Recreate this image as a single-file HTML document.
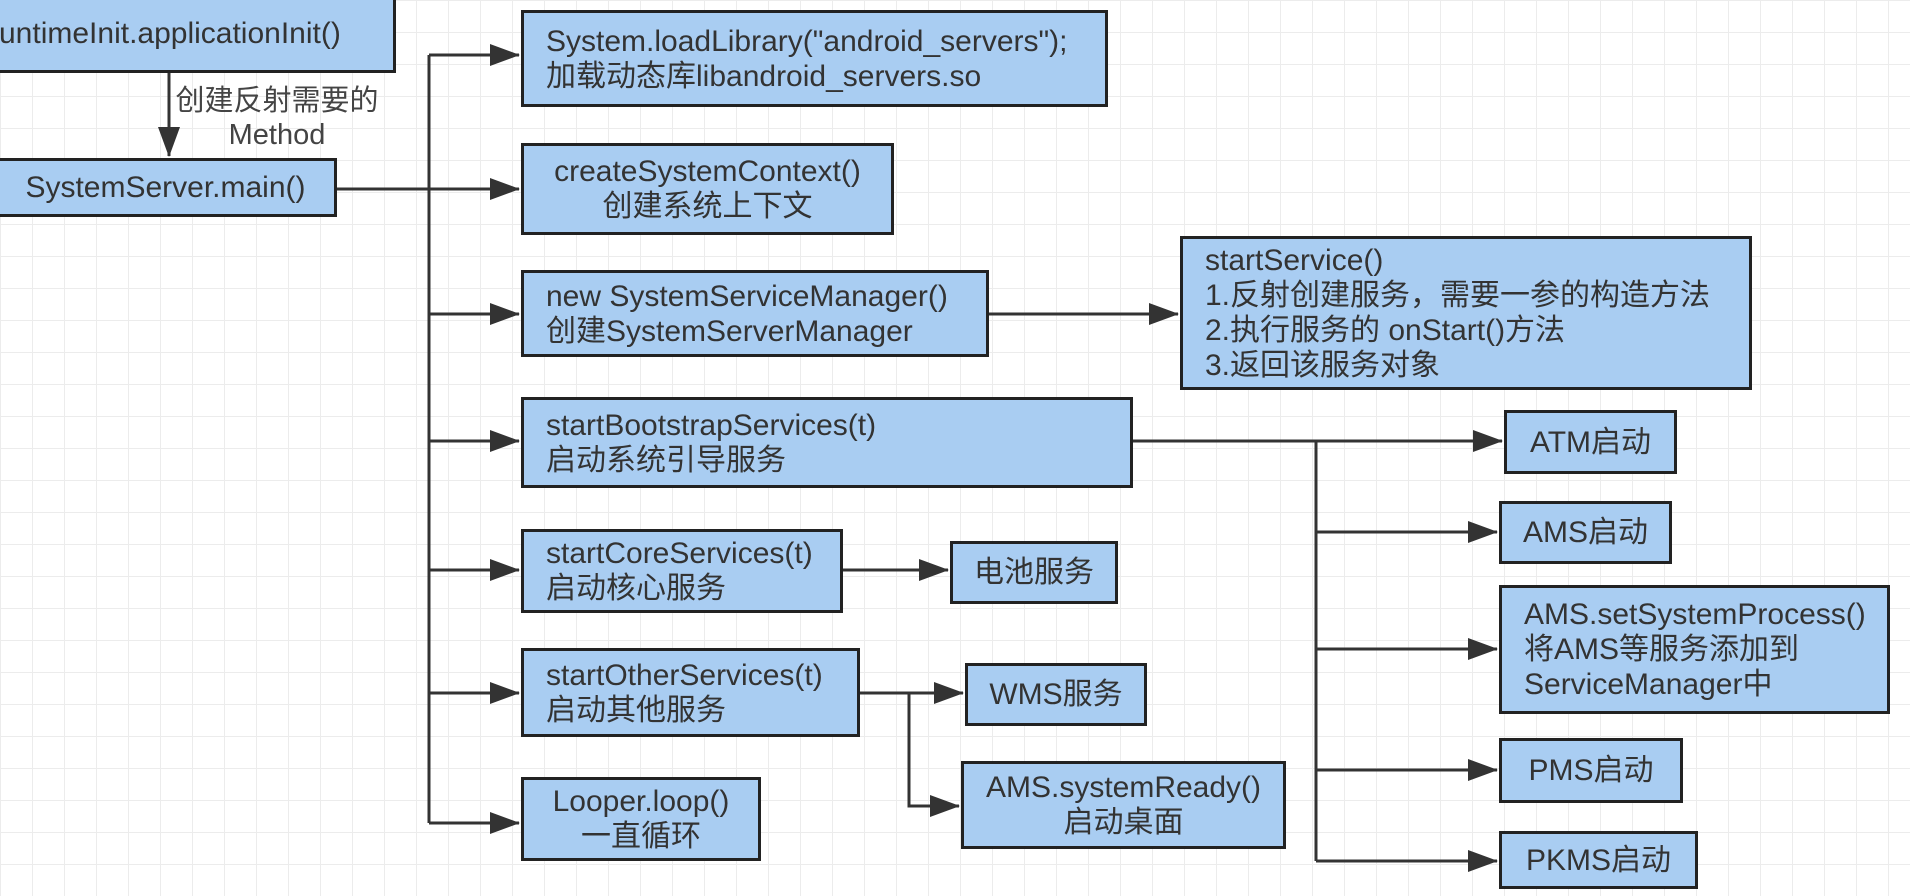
<!DOCTYPE html>
<html><head><meta charset="utf-8"><style>
html,body{margin:0;padding:0}
body{width:1910px;height:896px;position:relative;overflow:hidden;background-color:#fff;
background-image:linear-gradient(#ececec 1px,transparent 1px),linear-gradient(90deg,#ececec 1px,transparent 1px);
background-size:32px 32px;font-family:"Liberation Sans","Noto Sans CJK SC",sans-serif;color:#333}
.b{position:absolute;box-sizing:border-box;background:#a9cdf2;border:3px solid #222;font-size:30px;line-height:35px;padding:0 22px;display:flex;flex-direction:column;justify-content:center;white-space:nowrap}
.c{text-align:center;align-items:center}
svg{position:absolute;left:0;top:0}
</style></head><body>
<svg width="1910" height="896">
<defs><marker id="m" markerWidth="30" markerHeight="22" refX="29" refY="11" orient="auto" markerUnits="userSpaceOnUse"><path d="M0,0 L30,11 L0,22z" fill="#333"/></marker></defs>
<g stroke="#333" stroke-width="3" fill="none">
<path d="M169 73 V156" marker-end="url(#m)"/>
<path d="M337 189 H429"/>
<path d="M429 55 V823"/>
<path d="M429 55 H519" marker-end="url(#m)"/>
<path d="M429 189 H519" marker-end="url(#m)"/>
<path d="M429 314 H519" marker-end="url(#m)"/>
<path d="M429 441 H519" marker-end="url(#m)"/>
<path d="M429 570 H519" marker-end="url(#m)"/>
<path d="M429 693 H519" marker-end="url(#m)"/>
<path d="M429 823 H519" marker-end="url(#m)"/>
<path d="M989 314 H1178" marker-end="url(#m)"/>
<path d="M843 570 H948" marker-end="url(#m)"/>
<path d="M860 693 H963" marker-end="url(#m)"/>
<path d="M909 693 V806 H959" marker-end="url(#m)"/>
<path d="M1133 441 H1502" marker-end="url(#m)"/>
<path d="M1316 441 V861"/>
<path d="M1316 532 H1497" marker-end="url(#m)"/>
<path d="M1316 649 H1497" marker-end="url(#m)"/>
<path d="M1316 770 H1497" marker-end="url(#m)"/>
<path d="M1316 861 H1497" marker-end="url(#m)"/>
</g>
<text x="277" y="110" font-size="29" text-anchor="middle" fill="#444" font-family="Liberation Sans,Noto Sans CJK SC,sans-serif">创建反射需要的</text>
<text x="277" y="144" font-size="29" text-anchor="middle" fill="#444" font-family="Liberation Sans,Noto Sans CJK SC,sans-serif">Method</text>
</svg>
<div class="b" style="left:-30px;top:-6px;width:426px;height:79px;padding-left:26px">untimeInit.applicationInit()</div>
<div class="b c" style="left:-6px;top:158px;width:343px;height:59px">SystemServer.main()</div>
<div class="b" style="left:521px;top:10px;width:587px;height:97px"><div>System.loadLibrary("android_servers");</div><div>加载动态库libandroid_servers.so</div></div>
<div class="b c" style="left:521px;top:143px;width:373px;height:92px"><div>createSystemContext()</div><div>创建系统上下文</div></div>
<div class="b" style="left:521px;top:270px;width:468px;height:87px"><div>new SystemServiceManager()</div><div>创建SystemServerManager</div></div>
<div class="b" style="left:521px;top:397px;width:612px;height:91px"><div>startBootstrapServices(t)</div><div>启动系统引导服务</div></div>
<div class="b" style="left:521px;top:529px;width:322px;height:84px"><div>startCoreServices(t)</div><div>启动核心服务</div></div>
<div class="b" style="left:521px;top:648px;width:339px;height:89px"><div>startOtherServices(t)</div><div>启动其他服务</div></div>
<div class="b c" style="left:521px;top:777px;width:240px;height:84px"><div>Looper.loop()</div><div>一直循环</div></div>
<div class="b" style="left:1180px;top:236px;width:572px;height:154px"><div>startService()</div><div>1.反射创建服务，需要一参的构造方法</div><div>2.执行服务的 onStart()方法</div><div>3.返回该服务对象</div></div>
<div class="b c" style="left:950px;top:541px;width:168px;height:63px">电池服务</div>
<div class="b c" style="left:965px;top:663px;width:182px;height:63px">WMS服务</div>
<div class="b c" style="left:961px;top:761px;width:325px;height:88px"><div>AMS.systemReady()</div><div>启动桌面</div></div>
<div class="b c" style="left:1504px;top:410px;width:173px;height:64px">ATM启动</div>
<div class="b c" style="left:1499px;top:501px;width:173px;height:63px">AMS启动</div>
<div class="b" style="left:1499px;top:585px;width:391px;height:129px"><div>AMS.setSystemProcess()</div><div>将AMS等服务添加到</div><div>ServiceManager中</div></div>
<div class="b c" style="left:1499px;top:738px;width:184px;height:65px">PMS启动</div>
<div class="b c" style="left:1499px;top:831px;width:199px;height:58px">PKMS启动</div>
</body></html>
